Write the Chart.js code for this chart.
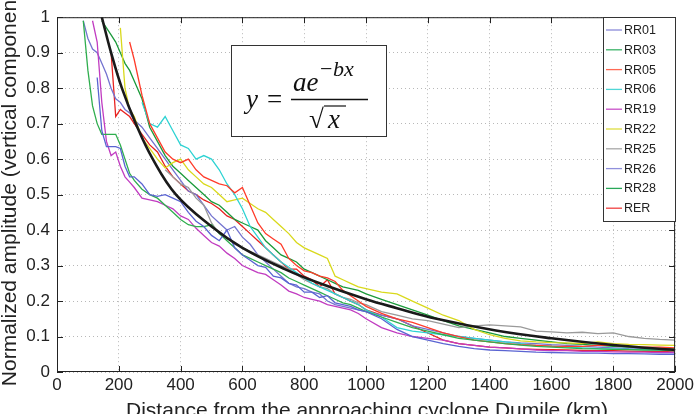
<!DOCTYPE html>
<html>
<head>
<meta charset="utf-8">
<script src="https://cdn.jsdelivr.net/npm/chart.js@4.4.0/dist/chart.umd.min.js"></script>
<style>
  html, body { margin: 0; padding: 0; background: #fff; }
  #wrap { position: relative; width: 697px; height: 414px; }
</style>
</head>
<body>
<div id="wrap"><canvas id="chart" width="697" height="414"></canvas></div>
<script>
// distance grid (km) shared by the station curves
const distKm = [85,100,115,130,145,160,175,190,205,220,235,
  250,275,300,325,350,375,400,425,450,475,500,525,550,575,600,625,650,675,700,725,750,775,800,825,850,875,900,925,950,975,1000,
  1050,1100,1150,1200,1250,1300,1350,1400,1450,1500,1550,1600,1650,1700,1750,1800,1850,1900,1950,2000];

const rr01 = [null,null,null,.83,.68,.635,.635,.635,.63,.58,.55,
  .55,.53,.5,.495,.5,.49,.48,.45,.425,.41,.385,.37,.4,.35,.33,.315,.3,.295,.27,.265,.25,.245,.225,.225,.21,.215,.195,.19,.185,.175,.17,
  .15,.12,.1,.09,.08,.072,.066,.062,.06,.058,.056,.055,.054,.053,.053,.052,.052,.051,.05,.05];
const rr03 = [.99,.85,.75,.7,.67,.67,.67,.67,.64,.6,.56,
  .54,.515,.5,.49,.47,.45,.43,.415,.41,.41,.415,.39,.37,.35,.33,.32,.31,.3,.29,.28,.265,.255,.245,.235,.225,.215,.205,.195,.19,.18,.17,
  .155,.14,.125,.115,.105,.095,.09,.085,.08,.076,.072,.07,.068,.066,.065,.064,.063,.062,.062,.06];
const rr05 = [null,null,null,null,null,null,null,null,null,null,.93,
  .88,.78,.7,.66,.62,.6,.59,.6,.57,.55,.54,.53,.525,.505,.52,.47,.42,.39,.375,.36,.32,.3,.285,.28,.27,.265,.255,.23,.215,.2,.185,
  .165,.15,.14,.125,.11,.1,.09,.085,.08,.077,.075,.073,.072,.072,.075,.075,.072,.07,.07,.068];
const rr06 = [null,null,null,null,null,null,null,null,null,null,null,
  null,.76,.7,.69,.72,.68,.64,.63,.6,.61,.6,.57,.53,.5,.46,.41,.38,.35,.33,.31,.295,.28,.265,.25,.24,.23,.22,.21,.2,.19,.175,
  .155,.125,.115,.11,.105,.1,.095,.09,.085,.08,.075,.073,.07,.068,.066,.065,.064,.063,.062,.06];
const rr19 = [null,null,.99,.93,.76,.65,.61,.62,.58,.55,.535,
  .52,.49,.485,.48,.47,.46,.44,.43,.405,.385,.365,.355,.335,.32,.3,.29,.28,.275,.26,.245,.228,.22,.21,.205,.2,.19,.185,.18,.175,.165,.15,
  .125,.11,.1,.095,.09,.08,.075,.07,.068,.065,.062,.06,.06,.058,.058,.057,.056,.056,.055,.055];
const rr22 = [null,null,null,null,null,null,null,null,.97,.8,.74,
  .72,.66,.63,.6,.575,.59,.6,.57,.55,.53,.52,.5,.48,.485,.49,.475,.46,.45,.43,.41,.39,.365,.35,.34,.33,.32,.27,.26,.25,.24,.235,
  .225,.22,.2,.18,.16,.145,.12,.105,.095,.088,.085,.083,.082,.08,.085,.08,.078,.077,.076,.075];
const rr25 = [null,null,null,null,null,null,null,null,null,null,null,
  null,null,null,null,.57,.55,.53,.52,.49,.47,.42,.39,.38,.36,.35,.34,.33,.32,.31,.3,.29,.275,.26,.25,.24,.235,.22,.21,.205,.195,.19,
  .17,.16,.15,.145,.135,.125,.13,.133,.13,.127,.115,.113,.11,.112,.108,.11,.1,.095,.092,.09];
const rr26 = [.99,.94,.91,.9,.87,.84,.8,.77,.76,.74,.73,
  .71,.69,.66,.63,.6,.57,.54,.51,.5,.47,.44,.42,.4,.41,.38,.36,.33,.31,.29,.27,.25,.24,.235,.225,.22,.2,.19,.185,.18,.175,.17,
  .16,.15,.13,.12,.11,.1,.095,.09,.085,.082,.08,.077,.075,.072,.07,.068,.066,.065,.063,.062];
const rr28 = [null,null,null,null,.99,.97,.95,.93,.9,.87,.85,
  .82,.77,.69,.65,.61,.58,.56,.54,.52,.5,.48,.47,.45,.43,.42,.41,.4,.37,.35,.33,.32,.31,.29,.28,.27,.26,.25,.24,.235,.23,.22,
  .205,.19,.175,.16,.145,.13,.12,.11,.1,.095,.09,.085,.08,.078,.075,.072,.07,.068,.066,.065];
const rer = [null,null,null,null,null,null,.9,.72,.74,.73,.72,
  .7,.67,.64,.62,.58,.55,.53,.51,.5,.485,.475,.46,.44,.43,.41,.39,.37,.35,.33,.31,.29,.29,.27,.26,.24,.26,.22,.21,.2,.19,.175,
  .16,.15,.13,.11,.09,.08,.075,.07,.068,.065,.064,.063,.062,.061,.06,.06,.059,.058,.058,.057];

// fitted curve
const fitX = [145,175,210,255,310,385,500,600,737,850,1000,1100,1228,1420,1600,1800,2000];
const fitY = [1.0,0.9,0.8,0.7,0.6,0.5,0.41,0.35,0.29,0.25,0.205,0.18,0.15,0.117,0.095,0.076,0.062];

const seriesNames = ['RR01','RR03','RR05','RR06','RR19','RR22','RR25','RR26','RR28','RER'];
const seriesValues = [rr01, rr03, rr05, rr06, rr19, rr22, rr25, rr26, rr28, rer];
const seriesColors = ['#5a64d2','#2fae4e','#ff3b2a','#2ed3d3','#c13cc1','#d9d91c','#9a9a9a','#7474d0','#1a9a3a','#e8211f'];
const legendColors = ['#8a8ad8','#3cb368','#ff6a55','#50d6d6','#c850c8','#dede40','#a8a8a8','#9090dc','#28a858','#f04040'];

const xTickValues = [0,200,400,600,800,1000,1200,1400,1600,1800,2000];
const xTickLabels = ['0','200','400','600','800','1000','1200','1400','1600','1800','2000'];
const yTickValues = [0,0.1,0.2,0.3,0.4,0.5,0.6,0.7,0.8,0.9,1];
const yTickLabels = ['0','0.1','0.2','0.3','0.4','0.5','0.6','0.7','0.8','0.9','1'];

const xTitle = 'Distance from the approaching cyclone Dumile (km)';
const yTitle = 'Normalized amplitude (vertical component)';

const SANS = '"Liberation Sans", Arial, Helvetica, sans-serif';
const SERIF = '"Liberation Serif", "Times New Roman", serif';

const datasets = [{
    label: 'fit',
    data: fitX.map((x, i) => ({ x: x, y: fitY[i] })),
    borderColor: '#1a1a1a',
    borderWidth: 2.6,
    pointRadius: 0,
    tension: 0.4,
    order: 0
}];
seriesValues.forEach((vals, k) => {
    datasets.push({
        label: seriesNames[k],
        data: distKm.map((x, i) => ({ x: x, y: vals[i] })),
        borderColor: seriesColors[k],
        borderWidth: 1.3,
        pointRadius: 0,
        tension: 0,
        spanGaps: false,
        order: 1
    });
});

function seg(ctx, x1, y1, x2, y2) {
    ctx.beginPath(); ctx.moveTo(x1, y1); ctx.lineTo(x2, y2); ctx.stroke();
}

const decorations = {
    id: 'decorations',
    afterDraw(chart) {
        const { ctx, chartArea: a, scales: { x, y } } = chart;
        ctx.save();

        // axes box and inward ticks
        ctx.strokeStyle = '#222';
        ctx.lineWidth = 1;
        ctx.strokeRect(a.left + 0.5, a.top + 0.5, a.right - a.left - 1, a.bottom - a.top - 1);
        xTickValues.forEach(v => {
            const px = Math.round(x.getPixelForValue(v)) + 0.5;
            seg(ctx, px, a.bottom, px, a.bottom - 6);
            seg(ctx, px, a.top, px, a.top + 6);
        });
        yTickValues.forEach(v => {
            const py = Math.round(y.getPixelForValue(v)) + 0.5;
            seg(ctx, a.left, py, a.left + 6, py);
            seg(ctx, a.right, py, a.right - 6, py);
        });

        // formula box
        ctx.fillStyle = '#fff';
        ctx.fillRect(231, 45, 156, 92);
        ctx.strokeStyle = '#333';
        ctx.strokeRect(231.5, 45.5, 155, 91);
        ctx.fillStyle = '#111';
        ctx.textBaseline = 'alphabetic';
        ctx.textAlign = 'left';
        ctx.font = 'italic 27px ' + SERIF;
        ctx.fillText('y', 246, 108);
        ctx.font = '27px ' + SERIF;
        ctx.fillText('=', 267, 108);
        ctx.font = 'italic 27px ' + SERIF;
        ctx.fillText('ae', 293, 91);
        ctx.font = '22px ' + SERIF;
        ctx.fillText('\u2212', 320, 76);
        ctx.font = 'italic 22px ' + SERIF;
        ctx.fillText('bx', 333, 76);
        ctx.lineWidth = 1.5;
        ctx.strokeStyle = '#111';
        seg(ctx, 291, 99.5, 368, 99.5);
        ctx.font = '27px ' + SERIF;
        ctx.fillText('\u221A', 309, 128);
        ctx.font = 'italic 27px ' + SERIF;
        ctx.fillText('x', 328, 128);
        ctx.lineWidth = 1.2;
        seg(ctx, 324, 106, 346, 106);

        // legend
        ctx.lineWidth = 1;
        ctx.fillStyle = '#fff';
        ctx.fillRect(603, 17, 73, 205);
        ctx.strokeStyle = '#333';
        ctx.strokeRect(603.5, 17.5, 72, 204);
        ctx.font = '12.5px ' + SANS;
        ctx.textBaseline = 'middle';
        seriesNames.forEach((name, k) => {
            const ly = 30 + k * 19.8;
            ctx.strokeStyle = legendColors[k];
            ctx.lineWidth = 1.3;
            seg(ctx, 606, ly, 622, ly);
            ctx.fillStyle = '#222';
            ctx.fillText(name, 624, ly + 0.5);
        });

        // axis titles
        ctx.fillStyle = '#222';
        ctx.font = '21px ' + SANS;
        ctx.textAlign = 'center';
        ctx.textBaseline = 'alphabetic';
        ctx.fillText(xTitle, (a.left + a.right) / 2 + 1, 417);
        ctx.save();
        ctx.translate(16, (a.top + a.bottom) / 2 - 8);
        ctx.rotate(-Math.PI / 2);
        ctx.fillText(yTitle, 0, 0);
        ctx.restore();

        ctx.restore();
    }
};

new Chart(document.getElementById('chart'), {
    type: 'line',
    data: { datasets: datasets },
    options: {
        responsive: false,
        animation: false,
        events: [],
        layout: { padding: { left: 0, right: 16, top: 12, bottom: 0 } },
        plugins: { legend: { display: false }, tooltip: { enabled: false } },
        scales: {
            x: {
                type: 'linear',
                min: 0, max: 2000,
                afterBuildTicks: s => { s.ticks = xTickValues.map(v => ({ value: v })); },
                afterFit: s => { s.height = 42; },
                ticks: {
                    font: { family: SANS, size: 17 }, color: '#222', padding: 3, maxRotation: 0,
                    callback: (v, i) => xTickLabels[i]
                },
                grid: { color: '#b8b8b8', drawTicks: false },
                border: { display: false, dash: [1, 3] }
            },
            y: {
                type: 'linear',
                min: 0, max: 1,
                afterBuildTicks: s => { s.ticks = yTickValues.map(v => ({ value: v })); },
                afterFit: s => { s.width = 57; },
                ticks: {
                    font: { family: SANS, size: 17 }, color: '#222', padding: 7,
                    callback: (v, i) => yTickLabels[i]
                },
                grid: { color: '#b8b8b8', drawTicks: false },
                border: { display: false, dash: [1, 3] }
            }
        }
    },
    plugins: [decorations]
});
</script>
</body>
</html>
